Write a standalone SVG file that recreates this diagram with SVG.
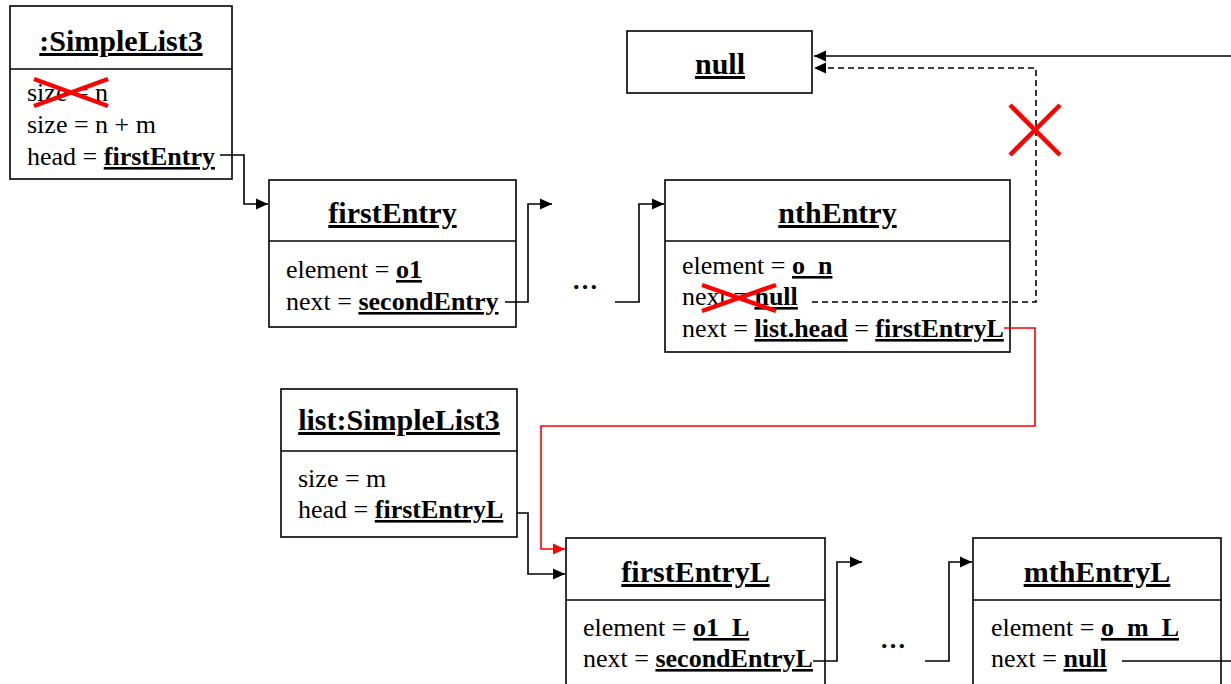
<svg xmlns="http://www.w3.org/2000/svg" width="1231" height="684" viewBox="0 0 1231 684">
<style>
  .box{fill:#fff;stroke:#000;stroke-width:1.6}
  .div{stroke:#000;stroke-width:1.6}
  text{font-family:"Liberation Serif","Times New Roman",serif;fill:#000}
  .title{font-size:30px;font-weight:bold;text-anchor:middle;text-decoration:underline}
  .attr{font-size:26px}
  .ref{font-weight:bold;text-decoration:underline}
  .conn{fill:none;stroke:#000;stroke-width:1.6}
  .dash{fill:none;stroke:#000;stroke-width:1.6;stroke-dasharray:6 4}
  .red{fill:none;stroke:#f00;stroke-width:1.6}
  .cross{stroke:#f00;stroke-width:4.5;fill:none}
  .dots{font-size:26px;font-weight:bold;text-anchor:middle}
</style>
<defs>
  <marker id="ah" markerUnits="userSpaceOnUse" markerWidth="13" markerHeight="12" refX="12" refY="6" orient="auto">
    <path d="M0,0.5 L12,6 L0,11.5 z" fill="#000"/>
  </marker>
  <marker id="ahr" markerUnits="userSpaceOnUse" markerWidth="13" markerHeight="12" refX="12" refY="6" orient="auto">
    <path d="M0,0.5 L12,6 L0,11.5 z" fill="#f00"/>
  </marker>
</defs>
<rect width="1231" height="684" fill="#fff"/>

<g id="simpleList3">
  <rect class="box" x="10" y="6" width="222" height="173"/>
  <line class="div" x1="10" y1="69" x2="232" y2="69"/>
  <text class="title" x="121" y="51">:SimpleList3</text>
  <text class="attr" x="27" y="101">size = n</text>
  <text class="attr" x="27" y="133">size = n + m</text>
  <text class="attr" x="27" y="165">head = <tspan class="ref">firstEntry</tspan></text>
  <path class="cross" d="M34,79 L108,106 M34,106 L108,79"/>
</g>

<g id="null">
  <rect class="box" x="627" y="31" width="185" height="62"/>
  <text class="title" x="720" y="74">null</text>
</g>

<g id="firstEntry">
  <rect class="box" x="269" y="180" width="247" height="147"/>
  <line class="div" x1="269" y1="241" x2="516" y2="241"/>
  <text class="title" x="392.5" y="223">firstEntry</text>
  <text class="attr" x="286" y="278">element = <tspan class="ref">o1</tspan></text>
  <text class="attr" x="286" y="310">next = <tspan class="ref">secondEntry</tspan></text>
</g>

<g id="nthEntry">
  <rect class="box" x="665" y="180" width="345" height="172"/>
  <line class="div" x1="665" y1="241" x2="1010" y2="241"/>
  <text class="title" x="837.5" y="223">nthEntry</text>
  <text class="attr" x="682" y="274">element = <tspan class="ref">o_n</tspan></text>
  <text class="attr" x="682" y="305">next = <tspan class="ref">null</tspan></text>
  <text class="attr" x="682" y="337">next = <tspan class="ref">list.head</tspan> = <tspan class="ref">firstEntryL</tspan></text>
  <path class="cross" d="M702,285 L776,311 M702,311 L776,285"/>
</g>

<g id="listSimpleList3">
  <rect class="box" x="281" y="389" width="236" height="148"/>
  <line class="div" x1="281" y1="451" x2="517" y2="451"/>
  <text class="title" x="399" y="430">list:SimpleList3</text>
  <text class="attr" x="298" y="487">size = m</text>
  <text class="attr" x="298" y="518">head = <tspan class="ref">firstEntryL</tspan></text>
</g>

<g id="firstEntryL">
  <rect class="box" x="566" y="538" width="259" height="160"/>
  <line class="div" x1="566" y1="600" x2="825" y2="600"/>
  <text class="title" x="695.5" y="582">firstEntryL</text>
  <text class="attr" x="583" y="636">element = <tspan class="ref">o1_L</tspan></text>
  <text class="attr" x="583" y="667">next = <tspan class="ref">secondEntryL</tspan></text>
</g>

<g id="mthEntryL">
  <rect class="box" x="973" y="538" width="248" height="160"/>
  <line class="div" x1="973" y1="600" x2="1221" y2="600"/>
  <text class="title" x="1097" y="582">mthEntryL</text>
  <text class="attr" x="991" y="636">element = <tspan class="ref">o_m_L</tspan></text>
  <text class="attr" x="991" y="667">next = <tspan class="ref">null</tspan></text>
</g>

<g id="ellipses">
  <text class="dots" x="585" y="289">…</text>
  <text class="dots" x="893" y="648">…</text>
</g>

<g id="connectors">
  <path class="conn" d="M220,155 H244 V204 H268" marker-end="url(#ah)"/>
  <path class="conn" d="M505,302 H528 V204 H552" marker-end="url(#ah)"/>
  <path class="conn" d="M615,302 H639 V204 H664" marker-end="url(#ah)"/>
  <path class="dash" d="M812,302 H1036 V68 H814" marker-end="url(#ah)"/>
  <path class="conn" d="M1231,56 H814" marker-end="url(#ah)"/>
  <path class="red" d="M1004,328 H1035 V426 H541 V549 H565" marker-end="url(#ahr)"/>
  <path class="conn" d="M517,513 H528 V574 H565" marker-end="url(#ah)"/>
  <path class="conn" d="M813,661 H837 V562 H862" marker-end="url(#ah)"/>
  <path class="conn" d="M925,661 H949 V562 H972" marker-end="url(#ah)"/>
  <path class="conn" d="M1122,661 H1231"/>
  <path class="cross" d="M1010,105 L1060,155 M1010,155 L1060,105"/>
</g>
</svg>
